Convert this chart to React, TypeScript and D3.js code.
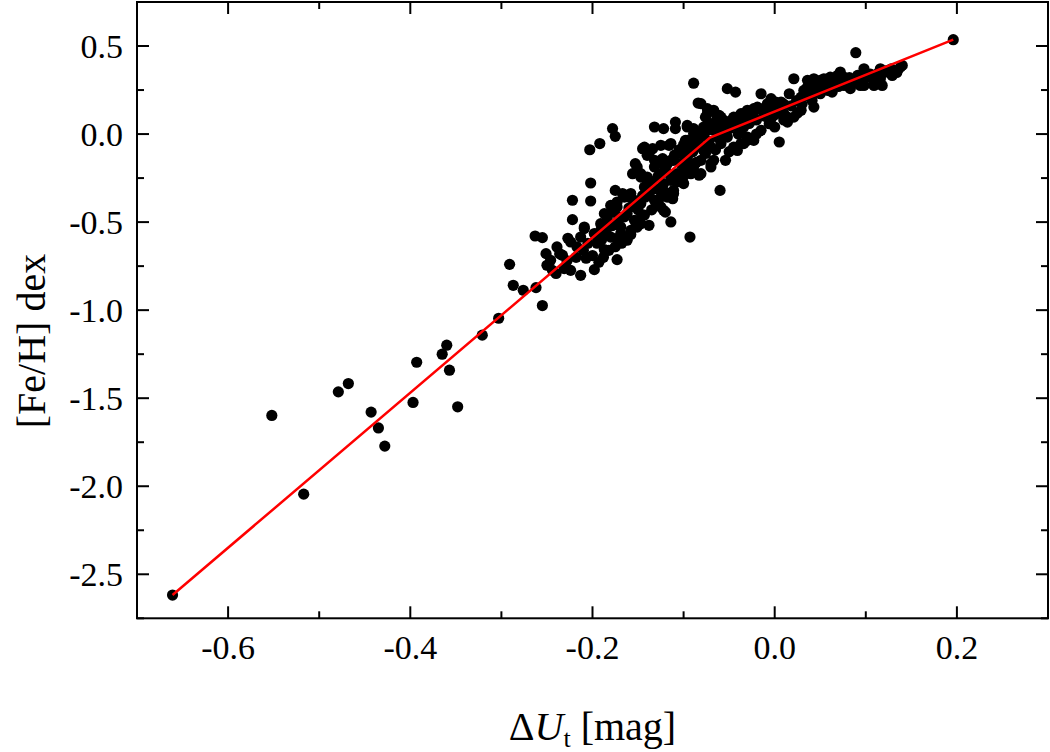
import React from "react";
import * as d3 from "d3";

// ΔU_t [mag] values of the stars
const deltaU: number[] = [
  -0.661, -0.552, -0.517, -0.479, -0.468, -0.443, -0.435, -0.428, -0.397, -0.393,
  -0.365, -0.360, -0.357, -0.348, -0.321, -0.303, -0.291, -0.287, -0.276, -0.262,
  -0.255, -0.263, -0.255, -0.251, -0.250, -0.246, -0.239, -0.244, -0.240, -0.231,
  -0.224, -0.213, -0.198, -0.222, -0.222, -0.224, -0.217, -0.209, -0.198, -0.202,
  -0.202, -0.203, -0.192, -0.178, -0.175, -0.187, -0.173, -0.191, -0.184, -0.178,
  -0.173, -0.175, -0.165, -0.158, -0.154, -0.169, -0.162, -0.156, -0.151, -0.147,
  -0.143, -0.140, -0.138, -0.147, -0.138, -0.145, -0.134, -0.140, -0.132, -0.129,
  -0.123, -0.132, -0.122, -0.114, -0.132, -0.125, -0.118, -0.111, -0.120, -0.114,
  -0.111, -0.103, -0.100, -0.109, -0.109, -0.096, -0.089, -0.085, -0.098, -0.092,
  -0.096, -0.100, -0.092, -0.083, -0.093, -0.089, -0.084, -0.074, -0.067, -0.061,
  -0.076, -0.070, -0.078, -0.081, -0.067, -0.059, -0.052, -0.070, -0.059, -0.067,
  -0.054, -0.060, -0.052, -0.043, -0.056, -0.048, -0.045, -0.045, -0.041, -0.037,
  -0.030, -0.023, -0.034, -0.015, -0.004, 0.001, 0.003, -0.019, -0.015, -0.030,
  -0.023, 0.005, -0.081, -0.081, -0.070, -0.081, -0.034, -0.059, -0.034, -0.023,
  -0.008, 0.007, 0.014, 0.021, 0.029, 0.016, 0.021, 0.036, 0.041, 0.047,
  0.054, 0.061, 0.069, 0.072, 0.040, 0.043, 0.050, 0.058, 0.063, 0.029,
  0.032, 0.080, 0.087, 0.091, 0.098, 0.102, 0.109, 0.116, 0.118, 0.089,
  0.098, 0.076, 0.083, 0.094, 0.116, 0.124, 0.129, 0.135, 0.140, 0.196,
  0.076, 0.043, 0.050, 0.058, 0.036, 0.041, 0.010, 0.014, -0.017, -0.037,
  -0.030, -0.006, -0.004, -0.037, -0.030, -0.037, 0.098, 0.109, -0.074, -0.063,
  -0.056, -0.067, -0.096, -0.089, -0.096, -0.085, -0.078, -0.143, -0.138, -0.125,
  -0.116, -0.114, -0.125, -0.132, -0.103, -0.096, -0.081, -0.153, -0.147, -0.140,
  -0.125, -0.114, -0.107, -0.111, -0.122, -0.089, -0.070, -0.167, -0.160, -0.173,
  -0.136, -0.142, -0.131, -0.147, -0.125, -0.112, -0.122, -0.180, -0.187, -0.180,
  -0.171, -0.162, -0.154, -0.151, -0.158, -0.209, -0.213, -0.191, -0.195, -0.180,
  -0.169, -0.164, -0.173, -0.233, -0.207, -0.193, -0.227, -0.182,
  -0.195, -0.190, -0.185, -0.178, -0.172, -0.165, -0.160, -0.155, -0.150, -0.145,
  -0.140, -0.135, -0.130, -0.128, -0.120, -0.118, -0.115, -0.110, -0.105, -0.100,
  -0.097, -0.090, -0.087, -0.083, -0.078, -0.075, -0.072, -0.065, -0.062, -0.058,
  -0.055, -0.050, -0.047, -0.043, -0.040, -0.035, -0.028, -0.025, -0.020, -0.012,
  -0.010, -0.005, 0.000, 0.005, 0.010, 0.018, 0.024, 0.030, 0.035, 0.045,
  0.052, 0.060, 0.066, 0.070, 0.075, 0.082, 0.088, 0.095, 0.105, 0.112,
  0.120, 0.128, 0.134, 0.138, -0.210, -0.218, -0.228, -0.236, -0.205, -0.200,
  -0.188, -0.175, -0.168, -0.158, -0.150, -0.143, -0.135, -0.128, -0.120, -0.106,
  -0.100, -0.095, -0.086, -0.076, -0.065, -0.050, -0.060, -0.020, 0.000, 0.010,
  0.025,
];

// [Fe/H] dex values of the stars
const feH: number[] = [
  -2.618, -1.598, -2.045, -1.464, -1.417, -1.579, -1.669, -1.772, -1.524, -1.296,
  -1.250, -1.199, -1.341, -1.549, -1.142, -1.046, -0.740, -0.859, -0.887, -0.872,
  -0.974, -0.579, -0.588, -0.679, -0.745, -0.717, -0.641, -0.774, -0.792, -0.764,
  -0.774, -0.802, -0.770, -0.376, -0.486, -0.613, -0.641, -0.537, -0.565, -0.278,
  -0.380, -0.089, -0.054, 0.031, -0.013, -0.656, -0.713, -0.509, -0.471, -0.443,
  -0.414, -0.320, -0.358, -0.338, -0.376, -0.528, -0.603, -0.225, -0.187, -0.244,
  -0.301, -0.263, -0.338, -0.509, -0.518, -0.083, -0.083, -0.121, -0.149, -0.168,
  -0.140, 0.040, 0.031, -0.054, -0.376, -0.414, -0.358, -0.338, -0.443, -0.499,
  -0.149, -0.168, -0.206, 0.068, 0.031, 0.049, 0.031, -0.017, -0.036, -0.074,
  -0.111, -0.281, -0.225, -0.234, -0.585, 0.289, 0.176, 0.144, 0.135, 0.106,
  0.096, 0.059, 0.040, 0.002, 0.021, 0.002, -0.017, -0.074, -0.054, -0.149,
  -0.149, -0.320, 0.258, 0.238, 0.078, 0.059, 0.096, -0.074, -0.093, 0.116,
  0.135, 0.096, 0.040, 0.229, 0.201, 0.182, 0.135, 0.153, 0.021, -0.017,
  -0.036, -0.045, 0.173, -0.074, -0.168, -0.225, -0.054, 0.096, 0.116, 0.144,
  0.173, 0.182, 0.068, 0.096, 0.135, 0.229, 0.314, 0.305, 0.286, 0.295,
  0.314, 0.323, 0.333, 0.352, 0.210, 0.153, 0.229, 0.248, 0.238, 0.210,
  0.248, 0.286, 0.305, 0.333, 0.352, 0.323, 0.295, 0.314, 0.276, 0.462,
  0.371, 0.276, 0.258, 0.276, 0.371, 0.362, 0.333, 0.362, 0.390, 0.536,
  0.323, 0.314, 0.305, 0.305, 0.267, 0.191, 0.116, 0.096, 0.144, 0.078,
  0.078, 0.059, 0.087, 0.021, -0.036, -0.054, 0.276, 0.276, 0.116, 0.096,
  0.059, 0.059, 0.040, 0.002, -0.036, -0.054, -0.093, -0.074, -0.111, -0.064,
  -0.064, -0.149, -0.149, -0.187, -0.111, -0.131, -0.149, -0.168, -0.225, -0.244,
  -0.225, -0.263, -0.225, -0.320, -0.281, -0.187, -0.187, -0.338, -0.358, -0.386,
  -0.320, -0.358, -0.376, -0.395, -0.358, -0.367, -0.433, -0.405, -0.452, -0.509,
  -0.471, -0.452, -0.490, -0.528, -0.547, -0.528, -0.585, -0.547, -0.585, -0.585,
  -0.565, -0.594, -0.594, -0.688, -0.705, -0.728, -0.592, -0.660,
  -0.620, -0.600, -0.550, -0.520, -0.500, -0.470, -0.420, -0.400, -0.430, -0.350,
  -0.300, -0.270, -0.310, -0.240, -0.200, -0.170, -0.230, -0.120, -0.090, -0.060,
  -0.150, -0.100, -0.040, -0.060, -0.010, 0.020, -0.040, 0.030, -0.020, 0.050,
  0.010, 0.030, 0.080, 0.050, 0.000, 0.090, 0.060, 0.110, 0.080, 0.120,
  0.100, 0.140, 0.110, 0.150, 0.170, 0.160, 0.190, 0.170, 0.220, 0.240,
  0.270, 0.280, 0.300, 0.270, 0.300, 0.320, 0.290, 0.310, 0.340, 0.340,
  0.350, 0.370, 0.350, 0.380, -0.660, -0.700, -0.720, -0.680, -0.620, -0.690,
  -0.700, -0.640, -0.620, -0.570, -0.490, -0.460, -0.430, -0.400, -0.330, -0.270,
  -0.240, -0.200, -0.160, -0.110, -0.090, -0.100, -0.030, 0.000, 0.040, 0.080,
  0.120,
];

// broken-line calibration
const fitX: number[] = [-0.661, -0.071, 0.196];
const fitY: number[] = [-2.618, -0.02, 0.536];

const xMajor: number[] = [-0.6, -0.4, -0.2, 0.0, 0.2];
const xMinor: number[] = [-0.7, -0.5, -0.3, -0.1, 0.1, 0.3];
const yMajor: number[] = [-2.5, -2.0, -1.5, -1.0, -0.5, 0.0, 0.5];
const yMinor: number[] = [-2.75, -2.25, -1.75, -1.25, -0.75, -0.25, 0.25, 0.75];

export default function App() {
  const W = 1050, H = 752;
  const L = 137, R = 1048, T = 2, B = 618.3;
  const x = d3.scaleLinear().domain([-0.7, 0.3]).range([L, R]);
  const y = d3.scaleLinear().domain([-2.75, 0.75]).range([B, T]);
  const font = "'Liberation Serif', 'Times New Roman', serif";
  const major = 12, minor = 7;

  const pts = deltaU.map((d, i) => [d, feH[i]] as [number, number]);
  const fit = fitX.map((d, i) => [d, fitY[i]] as [number, number]);
  const line = d3.line<[number, number]>().x(d => x(d[0])).y(d => y(d[1]));

  const fmt = (v: number) => (v < 0 ? "-" : "") + Math.abs(v).toFixed(1);

  return (
    <svg width={W} height={H} style={{ position: "absolute", left: 0, top: 0, background: "#fff" }}>
      <rect x={0} y={0} width={W} height={H} fill="#fff" />
      {/* points */}
      <g>
        {pts.map((p, i) => (
          <circle key={i} cx={x(p[0])} cy={y(p[1])} r={5.6} fill="#000" />
        ))}
      </g>
      {/* fit line */}
      <path d={line(fit) || ""} fill="none" stroke="#ff0000" strokeWidth={2.5} />
      {/* frame */}
      <rect x={L} y={T} width={R - L} height={B - T} fill="none" stroke="#000" strokeWidth={2} />
      {/* ticks */}
      <g stroke="#000" strokeWidth={2}>
        {xMajor.map(v => (
          <g key={"xm" + v}>
            <line x1={x(v)} x2={x(v)} y1={B} y2={B - major} />
            <line x1={x(v)} x2={x(v)} y1={T} y2={T + major} />
          </g>
        ))}
        {xMinor.map(v => (
          <g key={"xn" + v}>
            <line x1={x(v)} x2={x(v)} y1={B} y2={B - minor} />
            <line x1={x(v)} x2={x(v)} y1={T} y2={T + minor} />
          </g>
        ))}
        {yMajor.map(v => (
          <g key={"ym" + v}>
            <line x1={L} x2={L + major} y1={y(v)} y2={y(v)} />
            <line x1={R} x2={R - major} y1={y(v)} y2={y(v)} />
          </g>
        ))}
        {yMinor.map(v => (
          <g key={"yn" + v}>
            <line x1={L} x2={L + minor} y1={y(v)} y2={y(v)} />
            <line x1={R} x2={R - minor} y1={y(v)} y2={y(v)} />
          </g>
        ))}
      </g>
      {/* tick labels */}
      <g fontFamily={font} fontSize={34} fill="#000">
        {xMajor.map(v => (
          <text key={"xl" + v} x={x(v)} y={659} textAnchor="middle">{fmt(v)}</text>
        ))}
        {yMajor.map(v => (
          <text key={"yl" + v} x={123} y={y(v) + 11.5} textAnchor="end">{fmt(v)}</text>
        ))}
      </g>
      {/* axis titles */}
      <text x={(L + R) / 2} y={740} textAnchor="middle" fontFamily={font} fontSize={40} fill="#000">
        <tspan>Δ</tspan>
        <tspan fontStyle="italic">U</tspan>
        <tspan fontSize={26} dy={7}>t</tspan>
        <tspan dy={-7}>{" [mag]"}</tspan>
      </text>
      <text transform={`translate(45,341) rotate(-90)`} textAnchor="middle" fontFamily={font} fontSize={40} fill="#000">
        [Fe/H] dex
      </text>
    </svg>
  );
}
